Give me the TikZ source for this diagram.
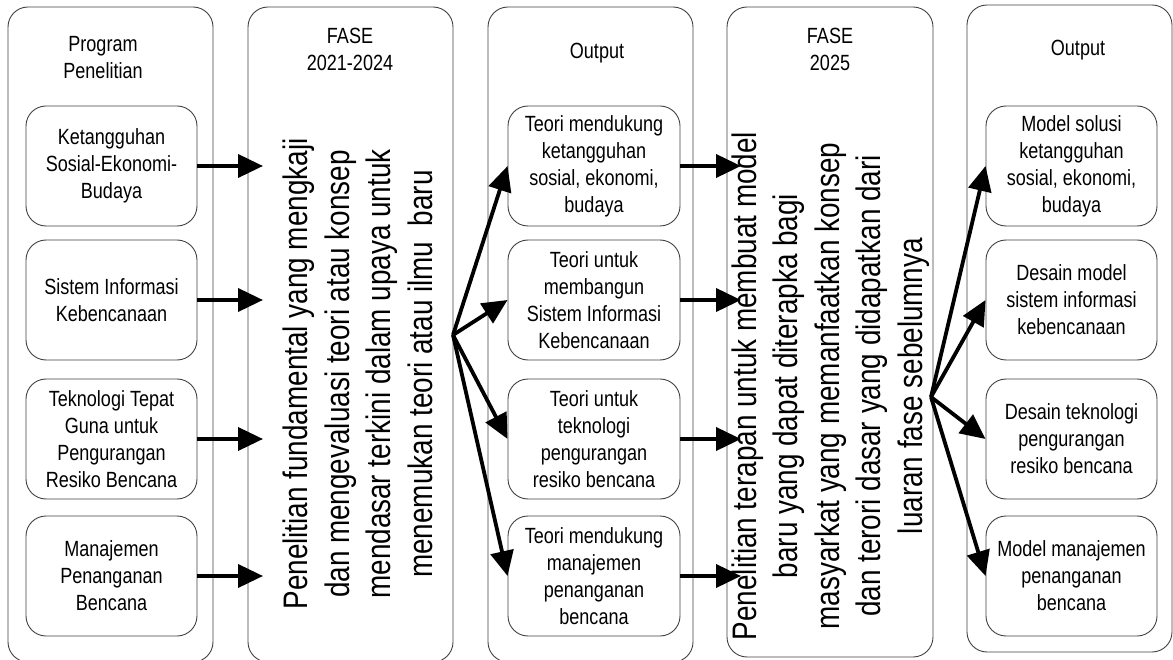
\documentclass[tikz,border=0pt]{standalone}
\usepackage{fontspec}
\setmainfont{Liberation Sans}[FakeStretch=0.82]
\usetikzlibrary{arrows.meta}
\newcommand{\boxfont}{\fontsize{22}{27}\selectfont}
\newcommand{\longfont}{\fontsize{34}{41.5}\selectfont}
\tikzset{
  colframe/.style={draw=black!75, line width=0.9pt, rounded corners=20pt, minimum width=205pt, inner sep=0pt},
  unitbox/.style={draw=black!75, line width=0.9pt, rounded corners=20pt, minimum width=171pt, minimum height=120pt, align=center, font=\boxfont, inner sep=0pt},
  head/.style={align=center, font=\boxfont},
  vtext/.style={rotate=90, align=center, font=\longfont, inner sep=0pt},
  flowarrow/.style={line width=3.8pt, -{Triangle[length=25pt,width=23pt]}}
}

\begin{document}
\begin{tikzpicture}[x=1pt, y=-1pt]
  \useasboundingbox (0,0) rectangle (1173,660);
  % coordinates
  \coordinate (tipA) at (263,0);
  \coordinate (tipB) at (741,0);
  \coordinate (fanA) at (453,335);
  \coordinate (fanB) at (931,397);
  % columns
  \node[colframe, minimum height=655pt] (prog) at (110.5,334.5) {};
  \node[colframe, minimum height=655pt] (fase1) at (350.5,334.5) {};
  \node[colframe, minimum height=655pt] (out1) at (590.5,334.5) {};
  \node[colframe, minimum width=206pt, minimum height=650pt] (fase2) at (830,332) {};
  \node[colframe, minimum height=647pt] (out2) at (1069.5,328.5) {};
  % headers
  \node[head] (prog-head) at (103,58) {Program\\Penelitian};
  \node[head] (fase1-head) at (350,49) {FASE\\2021-2024};
  \node[head] (out1-head) at (597,53) {Output};
  \node[head] (fase2-head) at (830,49) {FASE\\2025};
  \node[head] (out2-head) at (1078,50) {Output};
  % program penelitian
  \node[unitbox] (prog1) at (111.5,166) {Ketangguhan\\Sosial-Ekonomi-\\Budaya};
  \node[unitbox] (prog2) at (111.5,300) {Sistem Informasi\\Kebencanaan};
  \node[unitbox] (prog3) at (111.5,439) {Teknologi Tepat\\Guna untuk\\Pengurangan\\Resiko Bencana};
  \node[unitbox] (prog4) at (111.5,576) {Manajemen\\Penanganan\\Bencana};
  % fase 2021-2024
  \node[vtext] (fase1-text) at (358,374) {Penelitian fundamental yang mengkaji\\dan mengevaluasi teori atau konsep\\mendasar terkini dalam upaya untuk\\menemukan teori atau ilmu~ baru};
  % output of first phase
  \node[unitbox, minimum width=172pt] (teori1) at (594,166) {Teori mendukung\\ketangguhan\\sosial, ekonomi,\\budaya};
  \node[unitbox, minimum width=172pt] (teori2) at (594,300) {Teori untuk\\membangun\\Sistem Informasi\\Kebencanaan};
  \node[unitbox, minimum width=172pt] (teori3) at (594,439) {Teori untuk\\teknologi\\pengurangan\\resiko bencana};
  \node[unitbox, minimum width=172pt] (teori4) at (594,576) {Teori mendukung\\manajemen\\penanganan\\bencana};
  % fase 2025
  \node[vtext] (fase2-text) at (830.5,386) {Penelitian terapan untuk membuat model\\baru yang dapat diterapka bagi\\masyarkat yang memanfaatkan konsep\\dan terori dasar yang didapatkan dari\\luaran fase sebelumnya};
  % output of second phase
  \node[unitbox] (hasil1) at (1071.5,166) {Model solusi\\ketangguhan\\sosial, ekonomi,\\budaya};
  \node[unitbox] (hasil2) at (1071.5,300) {Desain model\\sistem informasi\\kebencanaan};
  \node[unitbox] (hasil3) at (1071.5,439) {Desain teknologi\\pengurangan\\resiko bencana};
  \node[unitbox] (hasil4) at (1071.5,576) {Model manajemen\\penanganan\\bencana};
  % arrows program -> fase 2021-2024
  \draw[flowarrow] (prog1.east) -- (prog1.east -| tipA);
  \draw[flowarrow] (prog2.east) -- (prog2.east -| tipA);
  \draw[flowarrow] (prog3.east) -- (prog3.east -| tipA);
  \draw[flowarrow] (prog4.east) -- (prog4.east -| tipA);
  % fan fase 2021-2024 -> output
  \draw[flowarrow] (fanA) -- (teori1.west);
  \draw[flowarrow] (fanA) -- (teori2.west);
  \draw[flowarrow] (fanA) -- (teori3.west);
  \draw[flowarrow] (fanA) -- (teori4.west);
  % arrows output -> fase 2025
  \draw[flowarrow] (teori1.east) -- (teori1.east -| tipB);
  \draw[flowarrow] (teori2.east) -- (teori2.east -| tipB);
  \draw[flowarrow] (teori3.east) -- (teori3.east -| tipB);
  \draw[flowarrow] (teori4.east) -- (teori4.east -| tipB);
  % fan fase 2025 -> output
  \draw[flowarrow] (fanB) -- (hasil1.west);
  \draw[flowarrow] (fanB) -- (hasil2.west);
  \draw[flowarrow] (fanB) -- (hasil3.west);
  \draw[flowarrow] (fanB) -- (hasil4.west);
\end{tikzpicture}
\end{document}
